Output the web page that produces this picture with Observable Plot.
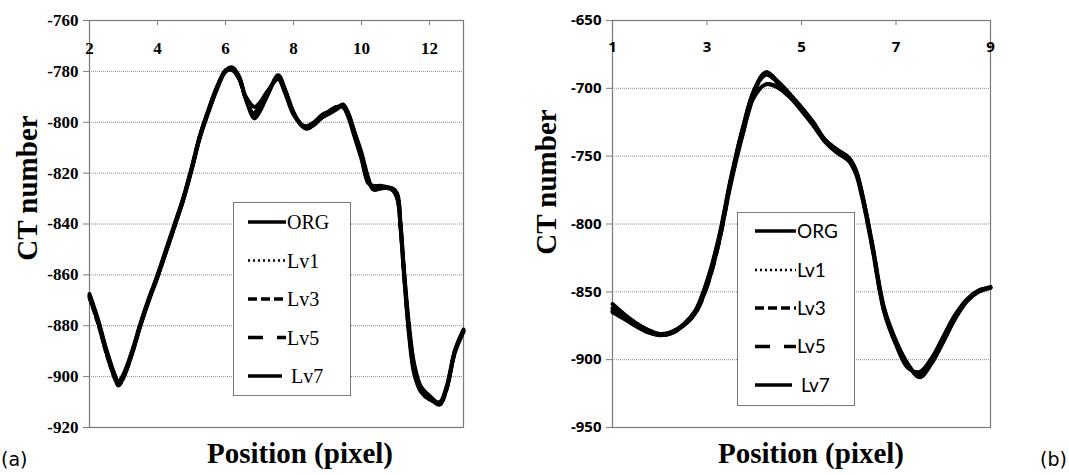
<!DOCTYPE html>
<html>
<head>
<meta charset="utf-8">
<script src="https://cdn.jsdelivr.net/npm/d3@7"></script>
<script src="https://cdn.jsdelivr.net/npm/@observablehq/plot@0.6"></script>
<style>
  body { margin: 0; background: #fff; }
  #wrap { position: relative; width: 1069px; height: 475px; overflow: hidden; background: #fff; }
  .panel { position: absolute; top: 0; }
  .ytitle { position: absolute; font-family: "Liberation Serif", serif; font-weight: bold; font-size: 29px; white-space: nowrap; transform: translate(-50%, -50%) rotate(-90deg); }
  .xtitle { position: absolute; font-family: "Liberation Serif", serif; font-weight: bold; font-size: 29px; white-space: nowrap; transform: translateX(-50%); }
  .tag { position: absolute; font-family: "DejaVu Sans", sans-serif; font-size: 19px; }
  .legend { position: absolute; border: 1px solid #777; background: #fff; box-sizing: border-box; }
</style>
</head>
<body>
<div id="wrap">
  <div id="pa" class="panel" style="left:0px"></div>
  <div id="pb" class="panel" style="left:530px"></div>
  <div class="ytitle" style="left:27px; top:188px">CT number</div>
  <div class="ytitle" style="left:546px; top:182px">CT number</div>
  <div class="xtitle" style="left:300px; top:437px">Position (pixel)</div>
  <div class="xtitle" style="left:811px; top:437px">Position (pixel)</div>
  <div class="tag" style="left:1px; top:448px">(a)</div>
  <div class="tag" style="left:1040px; top:448px">(b)</div>
  <div id="lega" class="legend" style="left:233px; top:202px; width:118px; height:194px"></div>
  <div id="legb" class="legend" style="left:737px; top:212px; width:118px; height:194px"></div>
</div>
<script>
// ---------- data: panel (a) ----------
const seriesNames = ["ORG", "Lv1", "Lv3", "Lv5", "Lv7"];
const xA = [2, 2.25, 2.5, 2.75, 2.85, 3, 3.25, 3.5, 3.75, 4, 4.25, 4.5, 4.75, 5, 5.25, 5.5, 5.75, 6, 6.2, 6.4, 6.6, 6.85, 7, 7.25, 7.55, 7.75, 8, 8.25, 8.4, 8.6, 8.85, 9, 9.25, 9.45, 9.6, 9.8, 10, 10.2, 10.35, 10.6, 10.9, 11.05, 11.15, 11.25, 11.4, 11.55, 11.75, 12, 12.3, 12.5, 12.75, 13];
const orgA = [-868, -878, -890, -900, -902.5, -900, -891, -880, -870, -861, -851, -841, -831, -819, -806, -796, -787, -780, -778.5, -782, -791, -798.5, -796, -789, -781.5, -787, -796, -801.5, -802.5, -801, -798, -797, -795, -793, -796, -804, -812, -822, -826.5, -826, -826, -828, -840, -858, -880, -895, -904, -907.5, -910.5, -905, -890, -882];
const lv1A = [-868, -878, -890, -900.5, -903, -900, -891, -880, -870, -861, -851, -841, -831, -819, -806, -796, -787, -780, -778.5, -782, -791, -798, -795.5, -789, -781.5, -787, -796, -801.5, -802.5, -801, -798, -797, -795, -793, -796, -804, -812, -822, -826.5, -826, -826, -828, -840, -858, -880, -895, -904, -908, -910.5, -905, -890, -882];
const lv3A = [-869, -879, -891, -901, -903.5, -900.5, -891, -879.5, -869.5, -860.5, -851, -841, -830.5, -818.5, -805.5, -795.5, -786.5, -779.5, -778.5, -782.5, -791, -797, -794.5, -788.5, -782, -787.5, -796.5, -801.5, -802.5, -801, -798, -796.5, -795, -793.5, -796.5, -804.5, -813, -823, -826, -825.5, -826, -829, -841, -859, -882, -897, -905, -908.5, -911, -905, -890.5, -882.5];
const lv5A = [-868.5, -878.5, -890.5, -900.5, -902.5, -899.5, -890.5, -879.5, -869.5, -860.5, -850.5, -840.5, -830.5, -818.5, -805.5, -795.5, -786.5, -780, -779, -782.5, -790.5, -796, -794, -788, -782.5, -788, -796.5, -801, -802, -800.5, -797.5, -796.5, -794.5, -793.5, -797, -805, -813.5, -823.5, -825.5, -825.5, -826.5, -829.5, -841.5, -859.5, -882.5, -897.5, -905, -908.5, -910.5, -904.5, -890, -882];
const lv7A = [-867.5, -877.5, -889.5, -899.5, -902, -899, -890, -879, -869, -860, -850, -840, -830, -818, -805, -795, -786, -780, -779.5, -783, -790, -794, -792.5, -787.5, -783, -788.5, -797, -801, -801.5, -800, -797, -796, -794, -794, -797.5, -806, -814.5, -824, -825, -825, -826.5, -830, -842, -860, -884, -899, -906, -909, -910, -904, -889.5, -881.5];
const xTicksA = [2, 4, 6, 8, 10, 12];
const yTicksA = [-760, -780, -800, -820, -840, -860, -880, -900, -920];

// ---------- data: panel (b) ----------
const xB = [1, 1.25, 1.5, 1.75, 2, 2.25, 2.5, 2.75, 3, 3.25, 3.5, 3.75, 4, 4.25, 4.5, 4.75, 5, 5.25, 5.5, 5.75, 6, 6.15, 6.3, 6.5, 6.75, 7, 7.25, 7.5, 7.75, 8, 8.25, 8.5, 8.75, 9];
const orgB = [-859, -866.5, -873, -878, -881, -879.5, -874, -864, -842, -810, -767, -730, -701, -688, -695, -704, -714, -725, -738, -745, -751, -760, -780, -815, -862, -886, -903, -913, -903, -887, -870, -857, -850, -847];
const lv1B = [-859, -866.5, -873, -878, -881, -879.5, -874, -864, -842, -810, -767, -730, -701, -688.5, -695, -704, -714, -725, -738, -745, -751, -760, -780, -815, -862, -886, -903, -913, -903, -887, -870, -857, -850, -847];
const lv3B = [-862, -868, -874, -879, -881.5, -880, -874.5, -865, -844, -812, -768, -731, -702, -690, -696, -705, -715, -726, -738, -746, -752, -761, -781, -816, -863, -887, -904, -912, -902, -886, -869, -856.5, -849.5, -847];
const lv5B = [-864, -869, -875, -879.5, -882, -880.5, -875, -866, -846, -814, -770, -734, -706, -697, -699, -706, -716, -727, -739, -747, -753, -762, -782, -817, -864, -888, -905, -910, -900, -884, -868, -856, -849, -846.5];
const lv7B = [-865, -870, -875.5, -880, -882, -880.5, -875, -866, -846, -814, -771, -735, -706, -697, -699.5, -706.5, -716.5, -727.5, -739.5, -747.5, -753.5, -763, -783, -818, -865, -889, -906, -909, -899, -883, -867, -855.5, -849, -846.5];
const xTicksB = [1, 3, 5, 7, 9];
const yTicksB = [-650, -700, -750, -800, -850, -900, -950];

const dashes = { ORG: null, Lv1: "1.5,3", Lv3: "7,3", Lv5: "12,8", Lv7: null };

function tidy(xs, cols) {
  const rows = [];
  seriesNames.forEach((s, i) => xs.forEach((x, j) => rows.push({ series: s, x, y: cols[i][j] })));
  return rows;
}

function setFont(root, family, size, weight) {
  d3.select(root).selectAll("text")
    .attr("font-family", family).attr("font-size", size).attr("font-weight", weight)
    .style("font-family", family).style("font-size", size + "px").style("font-weight", weight);
}

function panel({ data, xDomain, yDomain, xTicks, yTicks, width, marginLeft, marginRight, fontFamily, fontSize }) {
  const height = 440, marginTop = 20, marginBottom = 13;
  const plotH = height - marginTop - marginBottom;
  const font = { fontFamily, fontSize, fontWeight: "bold" };
  const marks = [
    Plot.gridY(yTicks, { stroke: "#8a8a8a", strokeOpacity: 1, strokeDasharray: "1,1" }),
    Plot.frame({ stroke: "#7a7a7a", strokeWidth: 1.2 }),
    Plot.axisY(yTicks, { tickSize: 6, tickPadding: 5, tickFormat: d => String(d), label: null, stroke: "#7a7a7a", fill: "black", ...font }),
    Plot.tickX(xTicks, { x: d => d, stroke: "#7a7a7a", insetBottom: plotH - 5 }),
    Plot.text(xTicks, { x: d => d, frameAnchor: "top", dy: 21, text: d => String(d), fill: "black", ...font })
  ];
  for (const s of seriesNames) {
    marks.push(Plot.line(data.filter(d => d.series === s), {
      x: "x", y: "y", stroke: "#000", strokeWidth: s === "Lv1" ? 3.2 : 3.9,
      strokeDasharray: dashes[s], curve: "catmull-rom"
    }));
  }
  const svg = Plot.plot({
    width, height, marginTop, marginBottom, marginLeft, marginRight,
    x: { domain: xDomain, axis: null },
    y: { domain: yDomain, axis: null },
    style: { background: "transparent", overflow: "visible" },
    marks
  });
  setFont(svg, fontFamily, fontSize, "bold");
  return svg;
}

const dataA = tidy(xA, [orgA, lv1A, lv3A, lv5A, lv7A]);
const dataB = tidy(xB, [orgB, lv1B, lv3B, lv5B, lv7B]);

document.getElementById("pa").append(panel({
  data: dataA, xDomain: [2, 13], yDomain: [-920, -760], xTicks: xTicksA, yTicks: yTicksA,
  width: 480, marginLeft: 89, marginRight: 17, fontFamily: "Liberation Serif", fontSize: 17
}));
document.getElementById("pb").append(panel({
  data: dataB, xDomain: [1, 9], yDomain: [-950, -650], xTicks: xTicksB, yTicks: yTicksB,
  width: 470, marginLeft: 82, marginRight: 10, fontFamily: "Open Sans", fontSize: 15
}));

// ---------- legends ----------
function legend(el, { rows, lineX1, lineX2, textX, fontFamily, fontSize }) {
  const w = 118, h = 194;
  const svg = d3.select(el).append("svg").attr("width", w - 2).attr("height", h - 2).style("display", "block");
  seriesNames.forEach((s, i) => {
    const y = rows[i];
    const x2 = s === "Lv7" ? lineX2 - 4 : lineX2;
    svg.append("line").attr("x1", lineX1).attr("x2", x2).attr("y1", y).attr("y2", y)
      .attr("stroke", "#000").attr("stroke-width", s === "Lv1" ? 2.4 : 3.6)
      .attr("stroke-dasharray", dashes[s] ? (s === "Lv1" ? "2,3" : dashes[s] === "7,3" ? "9,4" : "15,14") : null);
    svg.append("text").attr("x", s === "Lv7" ? textX + 4 : textX).attr("y", y).attr("dy", "0.36em").text(s);
  });
  setFont(svg.node(), fontFamily, fontSize, "normal");
}
legend(document.getElementById("lega"), { rows: [19, 57.5, 96, 134.5, 173], lineX1: 14, lineX2: 52, textX: 53, fontFamily: "Liberation Serif", fontSize: 20 });
legend(document.getElementById("legb"), { rows: [18, 57, 95, 133.5, 172], lineX1: 17, lineX2: 58, textX: 59, fontFamily: "Lato", fontSize: 19 });
</script>
</body>
</html>
